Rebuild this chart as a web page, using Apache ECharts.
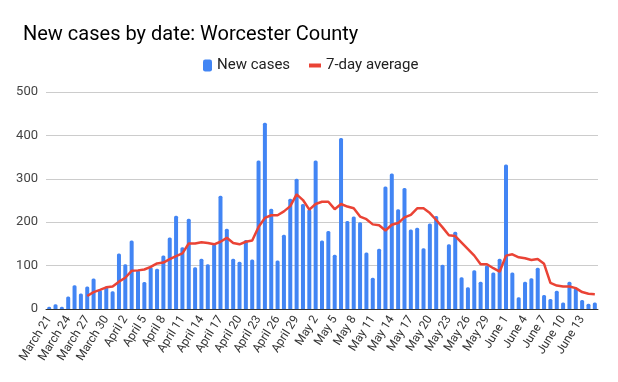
<!DOCTYPE html>
<html>
<head>
<meta charset="utf-8">
<script src="https://cdn.jsdelivr.net/npm/echarts@6/dist/echarts.min.js"></script>
<style>
html,body{margin:0;padding:0;background:#fff;}
#chart{width:618px;height:382px;}
</style>
</head>
<body>
<div id="chart"></div>
<script>
var dates = [
"March 21","March 22","March 23","March 24","March 25","March 26","March 27","March 28","March 29","March 30","March 31",
"April 1","April 2","April 3","April 4","April 5","April 6","April 7","April 8","April 9","April 10",
"April 11","April 12","April 13","April 14","April 15","April 16","April 17","April 18","April 19","April 20",
"April 21","April 22","April 23","April 24","April 25","April 26","April 27","April 28","April 29","April 30",
"May 1","May 2","May 3","May 4","May 5","May 6","May 7","May 8","May 9","May 10",
"May 11","May 12","May 13","May 14","May 15","May 16","May 17","May 18","May 19","May 20",
"May 21","May 22","May 23","May 24","May 25","May 26","May 27","May 28","May 29","May 30","May 31",
"June 1","June 2","June 3","June 4","June 5","June 6","June 7","June 8","June 9","June 10",
"June 11","June 12","June 13","June 14","June 15"
];

var newCases = [
5,11,5,29,55,36,52,70,44,52,41,
128,103,158,89,62,96,93,123,165,215,
142,208,96,116,103,149,261,185,116,109,
159,114,342,429,231,112,171,254,300,242,
229,342,158,180,125,394,203,213,200,130,
72,139,282,312,230,279,183,187,140,197,
214,102,149,178,73,50,89,63,100,84,116,
333,84,27,63,71,95,32,23,42,15,
63,48,21,12,15
];

var sevenDayAvg = [
null,null,null,null,null,null,30,39,44,50,52,
63,72,88,89,91,97,105,107,115,122,
128,151,151,154,152,149,155,164,152,149,
155,158,189,210,216,216,225,237,264,251,
229,242,247,247,230,242,236,232,213,207,
195,193,181,194,198,211,217,232,232,221,
205,188,170,168,153,138,123,103,103,94,86,
123,126,119,117,113,115,104,60,54,52,
52,48,39,35,34
];

var yTicks = [0,100,200,300,400,500];

var chart = echarts.init(document.getElementById('chart'), null, {renderer:'canvas'});
var font = 'Roboto, "Liberation Sans", Arial, sans-serif';
chart.setOption({
  animation:false,
  backgroundColor:'#ffffff',
  title:{
    text:'New cases by date: Worcester County',
    left:18, top:20,
    textStyle:{fontFamily:font,fontSize:20,fontWeight:'normal',color:'#000000'}
  },
  legend:[
    {
      data:[{name:'New cases', icon:'roundRect'}],
      left:198, top:53,
      itemWidth:9, itemHeight:12,
      textStyle:{fontFamily:font,fontSize:15,color:'#222222'}
    },
    {
      data:[{name:'7-day average', icon:'rect'}],
      left:304, top:53,
      itemWidth:12, itemHeight:4,
      textStyle:{fontFamily:font,fontSize:15,color:'#222222'}
    }
  ],
  grid:{left:46, right:20, top:92, bottom:73, containLabel:false},
  xAxis:{
    type:'category',
    data:dates,
    boundaryGap:true,
    axisLine:{show:true,lineStyle:{color:'#333333',width:1}},
    axisTick:{show:false},
    axisLabel:{
      interval:2, rotate:58, margin:8,
      fontFamily:font, fontSize:12, color:'#333333'
    }
  },
  yAxis:{
    type:'value',
    min:yTicks[0], max:yTicks[yTicks.length-1], interval:100,
    axisLine:{show:false},
    axisTick:{show:false},
    splitLine:{lineStyle:{color:'#cccccc',width:1}},
    axisLabel:{fontFamily:font,fontSize:13,color:'#444444',margin:8}
  },
  series:[
    {
      name:'New cases',
      type:'bar',
      data:newCases,
      barWidth:4,
      itemStyle:{color:'#4285F4',borderRadius:[1.5,1.5,0,0]}
    },
    {
      name:'7-day average',
      type:'line',
      data:sevenDayAvg,
      symbol:'none',
      showSymbol:false,
      connectNulls:false,
      lineStyle:{color:'#EA4335',width:2.5},
      itemStyle:{color:'#EA4335'}
    }
  ]
});
</script>
</body>
</html>
